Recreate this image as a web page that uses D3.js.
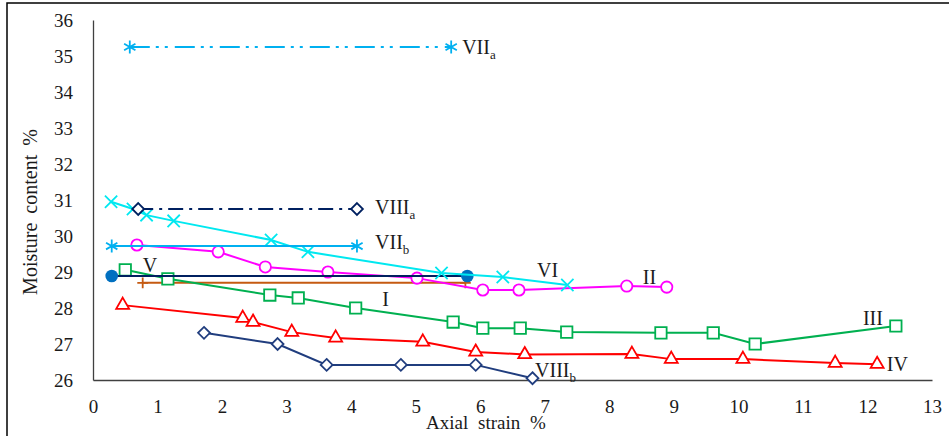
<!DOCTYPE html>
<html>
<head>
<meta charset="utf-8">
<script src="https://cdn.jsdelivr.net/npm/d3@7"></script>
<style>
  body { margin: 0; background: #fff; }
  svg text { font-family: "Liberation Serif", "Times New Roman", serif; fill: #1a1a1a; }
</style>
</head>
<body>
<svg id="chart" width="949" height="436"></svg>
<script>
// axial strain (%) / moisture content (%)
var xI = [0.77, 5.77];
var yI = [28.7, 28.7];
var xII = [0.68, 1.94, 2.67, 3.64, 5.02, 6.04, 6.60, 8.27, 8.89];
var yII = [29.75, 29.56, 29.14, 29.0, 28.83, 28.5, 28.5, 28.61, 28.58];
var xIII = [0.50, 1.16, 2.74, 3.18, 4.07, 5.58, 6.04, 6.62, 7.34, 8.80, 9.61, 10.26, 12.44];
var yIII = [29.06, 28.81, 28.36, 28.28, 28.0, 27.61, 27.44, 27.44, 27.33, 27.31, 27.31, 27.0, 27.5];
var xIV = [0.46, 2.32, 2.48, 3.08, 3.76, 5.11, 5.93, 6.69, 8.35, 8.96, 10.07, 11.50, 12.15];
var yIV = [28.08, 27.72, 27.61, 27.33, 27.17, 27.06, 26.78, 26.71, 26.72, 26.58, 26.58, 26.47, 26.44];
var xV = [0.29, 5.80];
var yV = [28.89, 28.89];
var xVI = [0.28, 0.62, 0.83, 1.25, 2.76, 3.33, 5.40, 6.35, 7.35];
var yVI = [30.95, 30.75, 30.58, 30.42, 29.89, 29.56, 28.97, 28.86, 28.64];
var xVIIa = [0.57, 5.55];
var yVIIa = [35.25, 35.25];
var xVIIb = [0.29, 4.09];
var yVIIb = [29.72, 29.72];
var xVIIIa = [0.70, 4.09];
var yVIIIa = [30.75, 30.75];
var xVIIIb = [1.72, 2.86, 3.62, 4.77, 5.93, 6.81];
var yVIIIb = [27.31, 27.0, 26.42, 26.42, 26.42, 26.05];

var xTicks = [0, 1, 2, 3, 4, 5, 6, 7, 8, 9, 10, 11, 12, 13];
var yTicks = [26, 27, 28, 29, 30, 31, 32, 33, 34, 35, 36];

// label name, subscript, and where it sits (data units, left edge / middle)
var labelNames = ['I', 'II', 'III', 'IV', 'V', 'VI', 'VII', 'VII', 'VIII', 'VIII'];
var labelSubs = ['', '', '', '', '', '', 'a', 'b', 'a', 'b'];
var labelX = [4.48, 8.52, 11.93, 12.30, 0.77, 6.88, 5.72, 4.37, 4.37, 6.85];
var labelY = [28.25, 28.86, 27.72, 26.44, 29.19, 29.06, 35.25, 29.83, 30.81, 26.28];

var series = [
    { x: xI, y: yI, color: '#C55A11', dash: null, marker: d3.symbolPlus, size: 40, fill: 'none', mcolor: '#C55A11' },
    { x: xII, y: yII, color: '#FF00FF', dash: null, marker: d3.symbolCircle, size: 100, fill: '#fff', mcolor: '#FF00FF' },
    { x: xIII, y: yIII, color: '#00B050', dash: null, marker: d3.symbolSquare2, size: 165, fill: '#fff', mcolor: '#00B050' },
    { x: xIV, y: yIV, color: '#FF0000', dash: null, marker: d3.symbolTriangle2, size: 120, fill: '#fff', mcolor: '#FF0000' },
    { x: xV, y: yV, color: '#002060', dash: null, marker: d3.symbolCircle, size: 125, fill: '#0070C0', mcolor: '#0070C0' },
    { x: xVI, y: yVI, color: '#00E8F0', dash: null, marker: d3.symbolTimes, size: 100, fill: 'none', mcolor: '#00E8F0' },
    { x: xVIIa, y: yVIIa, color: '#00B0F0', dash: '20,6,3,6,3,7', marker: d3.symbolAsterisk, size: 120, fill: 'none', mcolor: '#00B0F0' },
    { x: xVIIb, y: yVIIb, color: '#00B0F0', dash: null, marker: d3.symbolAsterisk, size: 120, fill: 'none', mcolor: '#00B0F0' },
    { x: xVIIIa, y: yVIIIa, color: '#002060', dash: '15,6,3,6', marker: d3.symbolDiamond2, size: 90, fill: '#fff', mcolor: '#002060' },
    { x: xVIIIb, y: yVIIIb, color: '#203D7E', dash: null, marker: d3.symbolDiamond2, size: 90, fill: '#fff', mcolor: '#203D7E' }
];

var svg = d3.select('#chart');

// outer frame
svg.append('rect')
    .attr('x', 7).attr('y', 3)
    .attr('width', 960).attr('height', 460)
    .attr('fill', 'none')
    .attr('stroke', '#000')
    .attr('stroke-width', 1.5);

var x = d3.scaleLinear().domain([0, 13]).range([93, 932]);
var y = d3.scaleLinear().domain([26, 36]).range([380, 20]);

var xAxis = svg.append('g')
    .attr('transform', 'translate(0,' + y(26) + ')')
    .call(d3.axisBottom(x).tickValues(xTicks).tickSize(0).tickPadding(20).tickFormat(d3.format('d')));
var yAxis = svg.append('g')
    .attr('transform', 'translate(' + x(0) + ',0)')
    .call(d3.axisLeft(y).tickValues(yTicks).tickSize(0).tickPadding(20).tickFormat(d3.format('d')));

[xAxis, yAxis].forEach(function(g) {
    g.select('.domain').attr('stroke', '#404040').attr('stroke-width', 1.3);
    g.selectAll('text')
        .attr('font-family', '"Liberation Serif", "Times New Roman", serif')
        .attr('font-size', 19)
        .attr('fill', '#1a1a1a');
});

svg.append('text')
    .attr('x', 486).attr('y', 429)
    .attr('text-anchor', 'middle')
    .attr('font-size', 19)
    .attr('word-spacing', 5)
    .text('Axial strain %');

svg.append('text')
    .attr('transform', 'translate(37,212) rotate(-90)')
    .attr('text-anchor', 'middle')
    .attr('font-size', 20)
    .attr('word-spacing', 4)
    .text('Moisture content %');

var line = d3.line()
    .x(d => x(d[0]))
    .y(d => y(d[1]));

series.forEach(function(s) {
    var pts = s.x.map((v, i) => [v, s.y[i]]);
    var g = svg.append('g');

    g.append('path')
        .attr('d', line(pts))
        .attr('fill', 'none')
        .attr('stroke', s.color)
        .attr('stroke-width', 2)
        .attr('stroke-dasharray', s.dash);

    g.selectAll('.marker')
        .data(pts)
        .join('path')
        .attr('class', 'marker')
        .attr('transform', d => 'translate(' + x(d[0]) + ',' + y(d[1]) + ')')
        .attr('d', d3.symbol().type(s.marker).size(s.size))
        .attr('fill', s.fill)
        .attr('stroke', s.mcolor)
        .attr('stroke-width', s.fill === s.mcolor ? 0 : 1.8);
});

labelNames.forEach(function(name, i) {
    var t = svg.append('text')
        .attr('x', x(labelX[i]))
        .attr('y', y(labelY[i]))
        .attr('dy', '0.35em')
        .attr('font-size', 20)
        .text(name);
    if (labelSubs[i]) {
        t.append('tspan')
            .attr('font-size', 13)
            .attr('dy', 5)
            .text(labelSubs[i]);
    }
});
</script>
</body>
</html>
